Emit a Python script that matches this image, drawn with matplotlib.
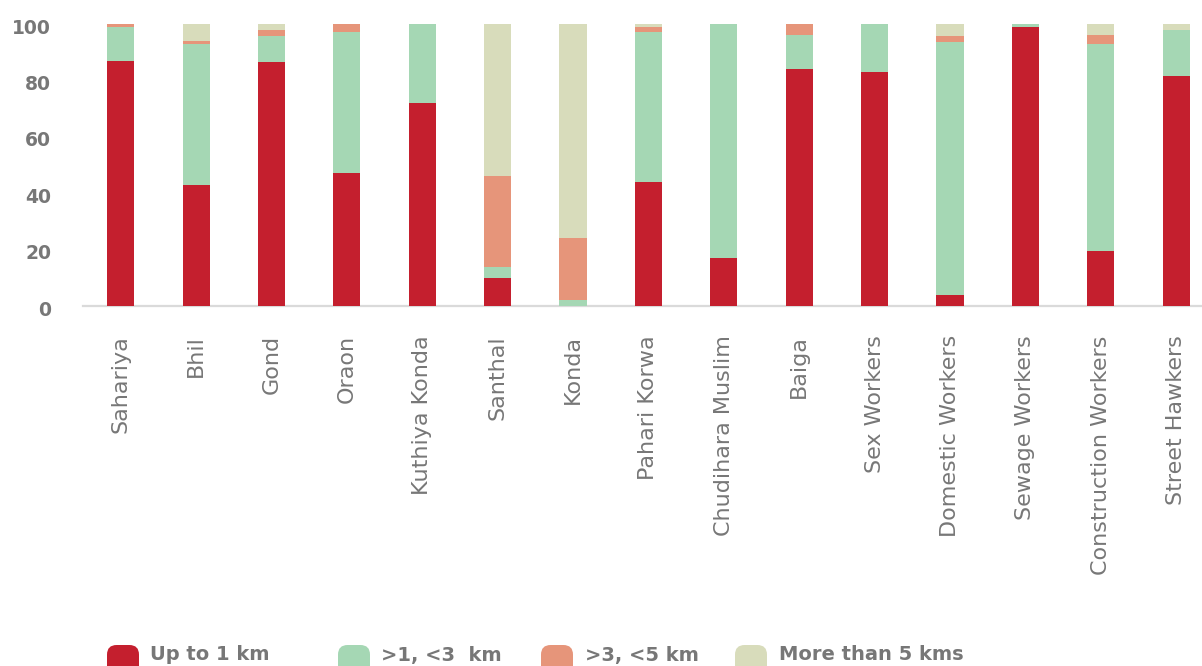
import matplotlib
matplotlib.use("Agg")
import matplotlib.pyplot as plt
from matplotlib.patches import FancyBboxPatch
from matplotlib.transforms import ScaledTranslation
import numpy as np

categories = ["Sahariya", "Bhil", "Gond", "Oraon", "Kuthiya Konda", "Santhal", "Konda",
              "Pahari Korwa", "Chudihara Muslim", "Baiga", "Sex Workers", "Domestic Workers",
              "Sewage Workers", "Construction Workers", "Street Hawkers"]
up_to_1 = [87, 43, 86.5, 47, 72, 10, 0, 44, 17, 84, 83, 4, 99, 19.5, 81.5]
one_to_3 = [12, 50, 9.2, 50, 28, 4, 2, 53, 83, 12, 17, 89.6, 1, 73.5, 16.5]
three_to_5 = [1, 1, 2.2, 3, 0, 32, 22, 2, 0, 4, 0, 2.1, 0, 3, 0]
more_5 = [0, 6, 2.1, 0, 0, 54, 76, 1, 0, 0, 0, 4.3, 0, 4, 2]
series_labels = ["Up to 1 km", ">1, <3  km", ">3, <5 km", "More than 5 kms"]
series_colors = ["#C41F2E", "#A5D7B4", "#E6957A", "#D8DCBB"]
yticks = [0, 20, 40, 60, 80, 100]

W, H = 1202, 666
fig = plt.figure(figsize=(W / 100, H / 100), dpi=100)
ax = fig.add_axes([83 / W, (H - 306) / H, (W - 83) / W, (306 - 24) / H])

x = np.arange(len(categories))
bottom = np.zeros(len(categories))
for vals, col, lab in zip([up_to_1, one_to_3, three_to_5, more_5], series_colors, series_labels):
    v = np.array(vals, dtype=float)
    ax.bar(x, v, width=0.36, bottom=bottom, color=col, label=lab, zorder=2)
    bottom += v

ax.set_xlim(-0.5, (W - 120.5) / 75.4)
ax.set_ylim(0, 100)
ax.set_yticks(yticks)
ax.set_yticklabels([str(t) for t in yticks])
ax.set_xticks(x)
ax.set_xticklabels(categories, rotation=90)

txtcol = "#777777"
ax.tick_params(axis="y", length=0, pad=23, labelsize=13.5, labelcolor=txtcol)
ax.tick_params(axis="x", length=0, pad=21, labelsize=16, labelcolor=txtcol)
for lbl in ax.get_yticklabels():
    lbl.set_fontweight("bold")
    lbl.set_transform(lbl.get_transform() + ScaledTranslation(0, -2 / 100, fig.dpi_scale_trans))
for lbl in ax.get_xticklabels():
    lbl.set_verticalalignment("top")

for s in ["top", "right", "left"]:
    ax.spines[s].set_visible(False)
ax.spines["bottom"].set_color("#DADADA")
ax.spines["bottom"].set_linewidth(1.6)
ax.spines["bottom"].set_zorder(1)

# legend
marker_x = [107, 338, 541, 735]
text_x = [150, 381, 585, 779]
for mx, tx, col, lab in zip(marker_x, text_x, series_colors, series_labels):
    p = FancyBboxPatch((mx / W, (H - 680) / H), 32 / W, 35 / H,
                       boxstyle="round,pad=0,rounding_size=0.008",
                       transform=fig.transFigure, facecolor=col, edgecolor="none",
                       mutation_aspect=W / H, clip_on=False)
    fig.patches.append(p)
    fig.text(tx / W, (H - 655) / H, lab, ha="left", va="center", fontsize=14,
             fontweight="bold", color=txtcol)

fig.savefig("out.png", dpi=100)
